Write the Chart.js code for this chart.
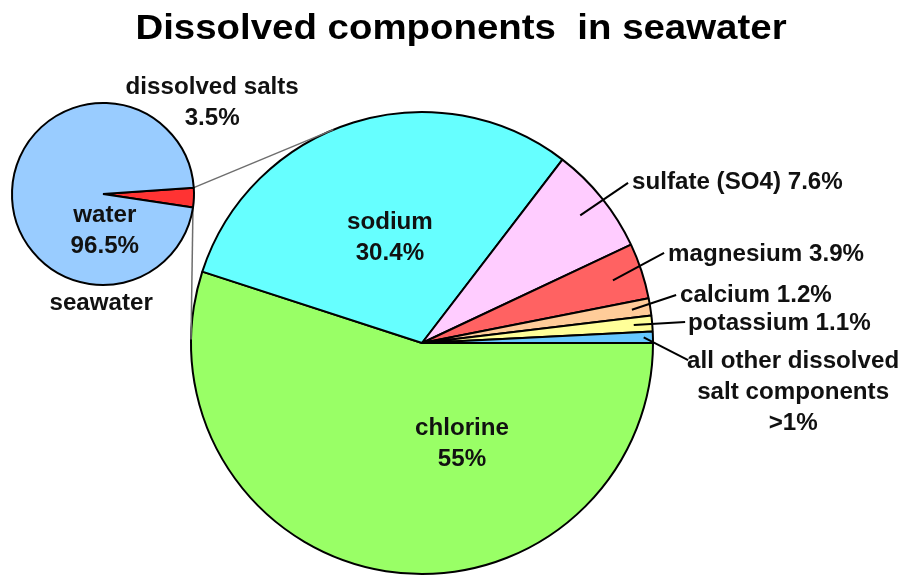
<!DOCTYPE html>
<html><head><meta charset="utf-8">
<script src="https://cdn.jsdelivr.net/npm/chart.js@4.4.1/dist/chart.umd.min.js"></script>
<style>
html,body{margin:0;padding:0;background:#fff;}
#wrap{position:relative;width:904px;height:580px;overflow:hidden;background:#fff;}
canvas{position:absolute;left:0;top:0;}
</style></head><body>
<div id="wrap"><canvas id="big" width="904" height="580"></canvas><canvas id="small" width="904" height="580"></canvas></div>
<script>
// ---- data ----
const titleText = 'Dissolved components  in seawater';
const bigCategories = ['chlorine', 'sodium', 'sulfate (SO4)', 'magnesium', 'calcium', 'potassium', 'all other dissolved salt components'];
const bigValues = [55, 30.4, 7.6, 3.9, 1.2, 1.1, 0.8];
const bigValueLabels = ['55%', '30.4%', '7.6%', '3.9%', '1.2%', '1.1%', '>1%'];
const smallCategories = ['dissolved salts', 'water'];
const smallValues = [3.5, 96.5];
const smallValueLabels = ['3.5%', '96.5%'];
const smallCaption = 'seawater';

// ---- styles / layout ----
const bigColors = ['#99FF66', '#66FFFF', '#FFCCFF', '#FF6262', '#FFCC99', '#FFFF99', '#66C8FF'];
const smallColors = ['#FF3333', '#99CCFF'];
const FONT = '"Liberation Sans", Arial, Helvetica, sans-serif';
const LABEL_FONT = 'bold 23px ' + FONT;
const LABEL_SX = 1.05;
const LINE_H = 31;

const bigLayout = [
  {type: 'in', dx: 0.173, dy: 0.429},
  {type: 'in', dx: -0.139, dy: -0.463},
  {type: 'out', f: 0.88, ex: 0.892, ey: -0.693, tx: 4, ty: 6},
  {type: 'out', f: 0.87, ex: 1.048, ey: -0.390, tx: 4, ty: 8},
  {type: 'out', f: 0.92, ex: 1.100, ey: -0.208, tx: 4, ty: 7},
  {type: 'out', f: 0.92, ex: 1.139, ey: -0.091, tx: 3, ty: 8},
  {type: 'out', f: 0.96, ex: 1.152, ey: 0.074, tx: -1, ty: 8, wrap: ['all other dissolved', 'salt components']}
];

function arcProps(arc) {
  return arc.getProps(['x', 'y', 'startAngle', 'endAngle', 'outerRadius'], true);
}

function drawText(ctx, text, x, y, align) {
  ctx.save();
  ctx.translate(x, y);
  ctx.scale(LABEL_SX, 1);
  ctx.textAlign = align;
  ctx.textBaseline = 'alphabetic';
  ctx.fillText(text, 0, 0);
  ctx.restore();
}

let bigChart = null;

const bigLabelsPlugin = {
  id: 'bigLabels',
  afterDatasetsDraw(chart) {
    const ctx = chart.ctx;
    const meta = chart.getDatasetMeta(0);
    ctx.save();
    ctx.font = LABEL_FONT;
    ctx.fillStyle = '#111';
    ctx.strokeStyle = '#000';
    ctx.lineWidth = 2;
    meta.data.forEach((arc, i) => {
      const p = arcProps(arc);
      const r = p.outerRadius;
      const L = bigLayout[i];
      if (L.type === 'in') {
        const cx = p.x + L.dx * r, cy = p.y + L.dy * r;
        drawText(ctx, bigCategories[i], cx, cy - 7.5, 'center');
        drawText(ctx, bigValueLabels[i], cx, cy - 7.5 + LINE_H, 'center');
      } else {
        const mid = (p.startAngle + p.endAngle) / 2;
        const sx = p.x + Math.cos(mid) * r * L.f, sy = p.y + Math.sin(mid) * r * L.f;
        const ex = p.x + L.ex * r, ey = p.y + L.ey * r;
        ctx.beginPath(); ctx.moveTo(sx, sy); ctx.lineTo(ex, ey); ctx.stroke();
        const left = ex + L.tx, base = ey + L.ty;
        if (L.wrap) {
          const lines = L.wrap.concat([bigValueLabels[i]]);
          const w = ctx.measureText(lines[0]).width * LABEL_SX;
          lines.forEach((t, k) => drawText(ctx, t, left + w / 2, base + k * LINE_H, 'center'));
        } else {
          drawText(ctx, bigCategories[i] + ' ' + bigValueLabels[i], left, base, 'left');
        }
      }
    });
    // title
    ctx.font = 'bold 34px ' + FONT;
    ctx.fillStyle = '#000';
    ctx.textAlign = 'center';
    ctx.textBaseline = 'alphabetic';
    ctx.translate(461, 39);
    ctx.scale(1.13, 1.02);
    ctx.fillText(titleText, 0, 0);
    ctx.restore();
  }
};

function tangentPoints(px, py, cx, cy, R) {
  const dx = px - cx, dy = py - cy;
  const d = Math.hypot(dx, dy);
  const th = Math.atan2(dy, dx);
  const a = Math.acos(Math.min(1, R / d));
  return [th + a, th - a].map(t => ({x: cx + R * Math.cos(t), y: cy + R * Math.sin(t)}));
}

const smallPlugin = {
  id: 'smallExtras',
  beforeDatasetsDraw(chart) {
    if (!bigChart) return;
    const ctx = chart.ctx;
    const s = arcProps(chart.getDatasetMeta(0).data[0]);
    const b = arcProps(bigChart.getDatasetMeta(0).data[0]);
    const p1 = {x: s.x + s.outerRadius * Math.cos(s.startAngle), y: s.y + s.outerRadius * Math.sin(s.startAngle)};
    const p2 = {x: s.x + s.outerRadius * Math.cos(s.endAngle), y: s.y + s.outerRadius * Math.sin(s.endAngle)};
    const t1 = tangentPoints(p1.x, p1.y, b.x, b.y, b.outerRadius).sort((u, v) => u.y - v.y)[0];
    const t2 = tangentPoints(p2.x, p2.y, b.x, b.y, b.outerRadius).sort((u, v) => u.x - v.x)[0];
    ctx.save();
    ctx.strokeStyle = '#6e6e6e';
    ctx.lineWidth = 1.5;
    ctx.beginPath(); ctx.moveTo(p1.x, p1.y); ctx.lineTo(t1.x, t1.y); ctx.stroke();
    ctx.beginPath(); ctx.moveTo(p2.x, p2.y); ctx.lineTo(t2.x, t2.y); ctx.stroke();
    ctx.restore();
  },
  afterDatasetsDraw(chart) {
    const ctx = chart.ctx;
    const s = arcProps(chart.getDatasetMeta(0).data[1]);
    const r = s.outerRadius;
    ctx.save();
    ctx.font = LABEL_FONT;
    ctx.fillStyle = '#111';
    drawText(ctx, smallCategories[0], s.x + 1.2 * r, s.y - 1.1 * r, 'center');
    drawText(ctx, smallValueLabels[0], s.x + 1.2 * r, s.y - 1.1 * r + LINE_H, 'center');
    drawText(ctx, smallCategories[1], s.x + 0.02 * r, s.y + 0.31 * r, 'center');
    drawText(ctx, smallValueLabels[1], s.x + 0.02 * r, s.y + 0.31 * r + LINE_H, 'center');
    drawText(ctx, smallCaption, s.x - 0.02 * r, s.y + 1.27 * r, 'center');
    ctx.restore();
  }
};

// big pie: centre (422,343), radius ~231
bigChart = new Chart(document.getElementById('big'), {
  type: 'pie',
  data: {labels: bigCategories, datasets: [{data: bigValues, backgroundColor: bigColors, borderColor: '#000', borderWidth: 2}]},
  options: {
    responsive: false, animation: false, rotation: 90,
    layout: {padding: {left: 190, right: 250, top: 111, bottom: 5}},
    plugins: {legend: {display: false}, tooltip: {enabled: false}, title: {display: false}}
  },
  plugins: [bigLabelsPlugin]
});

// small pie: centre (103,194), radius ~91
const smallChart = new Chart(document.getElementById('small'), {
  type: 'pie',
  data: {labels: smallCategories, datasets: [{data: smallValues, backgroundColor: smallColors, borderColor: '#000', borderWidth: 2}]},
  options: {
    responsive: false, animation: false, rotation: 86,
    layout: {padding: {left: 11, right: 709, top: 102, bottom: 294}},
    plugins: {legend: {display: false}, tooltip: {enabled: false}, title: {display: false}}
  },
  plugins: [smallPlugin]
});
</script>
</body></html>
